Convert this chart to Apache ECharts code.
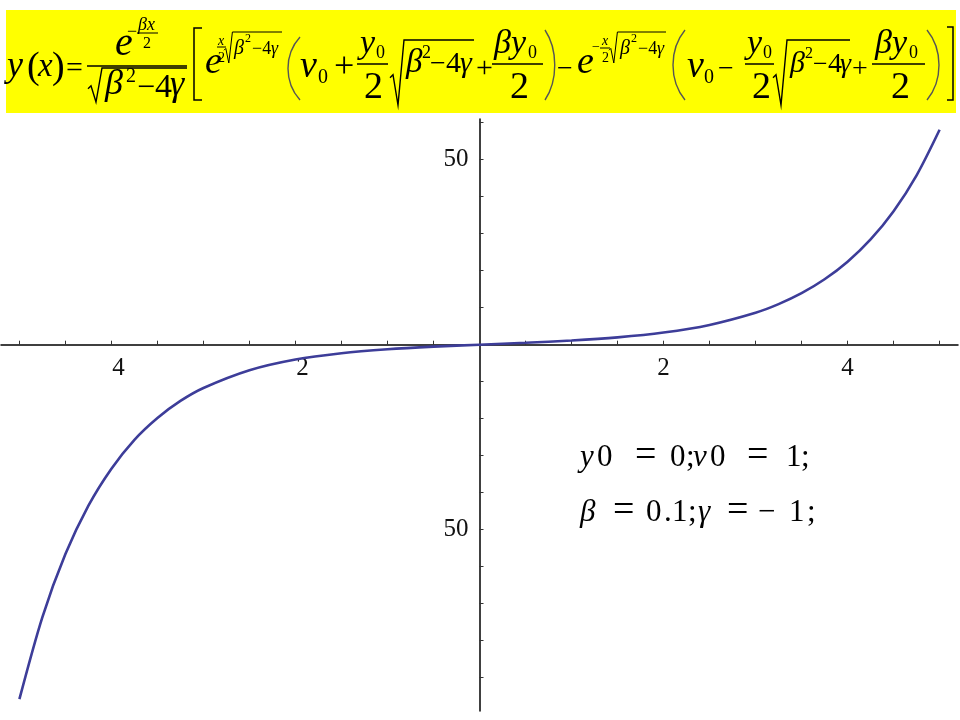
<!DOCTYPE html>
<html>
<head>
<meta charset="utf-8">
<script src="https://cdn.jsdelivr.net/npm/echarts@6/dist/echarts.min.js"></script>
<style>html,body{margin:0;padding:0;background:#fff;}#c{width:960px;height:720px;}</style>
</head>
<body>
<div id="c"></div>
<script>
// ---- data ----
const xValues = [-5,-4.75,-4.5,-4.25,-4,-3.75,-3.5,-3.25,-3,-2.5,-2,-1.5,-1,-0.5,0,0.5,1,1.5,2,2.5,3,3.25,3.5,3.75,4,4.25,4.5,4.75,5];
const yValues = [-95.8,-73.6,-56.6,-43.5,-33.5,-25.7,-19.8,-15.2,-11.7,-6.9,-4.0,-2.3,-1.24,-0.53,0,0.51,1.12,1.98,3.29,5.35,8.64,10.98,13.93,17.68,22.43,28.45,36.09,45.79,58.1];
const xTickValues = [-5,-4.5,-4,-3.5,-3,-2.5,-2,-1.5,-1,-0.5,0.5,1,1.5,2,2.5,3,3.5,4,4.5,5];
const xLabelValues = [-4,-2,2,4];
const yTickValues = [-90,-80,-70,-60,-50,-40,-30,-20,-10,10,20,30,40,50,60];
const yLabelValues = [-50,50];
const xMin = -5.2, xMax = 5.2, yMin = -99, yMax = 61;

const FAM = 'Liberation Serif';
const cctx = document.createElement('canvas').getContext('2d');
function fnt(s,it){return (it?'italic ':'')+s+'px '+FAM;}
function midOff(s,it){cctx.font=fnt(s,it);cctx.textBaseline='middle';return cctx.measureText('H').actualBoundingBoxDescent;}
function T(str,left,base,size,it){
  return {type:'text',x:left,y:base-midOff(size,it),silent:true,z:10,
    style:{text:str,fontSize:size,fontFamily:FAM,fontStyle:it?'italic':'normal',fill:'#000',
      align:'left',verticalAlign:'middle',textAlign:'left',textVerticalAlign:'middle'}};
}
function H(x1,x2,y,lw){return {type:'line',z:10,silent:true,shape:{x1:x1,y1:y,x2:x2,y2:y},style:{stroke:'#000',lineWidth:lw||1.5}};}
function P(pts,lw){return {type:'polyline',z:10,silent:true,shape:{points:pts},style:{stroke:'#000',fill:null,lineWidth:lw||1.5}};}
function RAD(x0,yTop,yBot,xEnd,sc){
  sc=sc||1;
  const m=yTop+(yBot-yTop)*0.55;
  return P([[x0,m+2*sc],[x0+3*sc,m-1*sc],[x0+8*sc,yBot],[x0+14*sc,yTop],[xEnd,yTop]],sc>0.8?1.4:1);
}
function PAREN(a,b,t,bt,left){
  const h=bt-t;
  if(left) return {type:'bezierCurve',z:10,silent:true,shape:{x1:b,y1:t,x2:b,y2:bt,cpx1:a-3,cpy1:t+h*0.28,cpx2:a-3,cpy2:t+h*0.72},style:{stroke:'#555',lineWidth:1.4,fill:null}};
  return {type:'bezierCurve',z:10,silent:true,shape:{x1:a,y1:t,x2:a,y2:bt,cpx1:b+3,cpy1:t+h*0.28,cpx2:b+3,cpy2:t+h*0.72},style:{stroke:'#555',lineWidth:1.4,fill:null}};
}

const g = [];
g.push({type:'rect',z:5,silent:true,shape:{x:6,y:10,width:950,height:103},style:{fill:'#ffff00'}});
// y(x) =
g.push(T('y',7,76,36,true),T('(',27,78,38,false),T('x',38,76,33,true),T(')',52,78,38,false),T('=',66,77,30,false));
// first fraction
g.push(H(87,187,66));
g.push(T('e',115,55,40,true),T('\u2212',127,37,18,false),T('\u03b2x',138,30,18,true),H(137,158,33,1),T('2',143,48,16,false));
g.push(RAD(88,68,102,187,1));
g.push(T('\u03b2',105,94,36,true),T('2',126,82,20,false),T('\u2212',137,97,32,false),T('4',155,97,34,false),T('\u03b3',170,95,36,true));
// [
g.push(P([[202,28],[194,28],[194,100],[202,100]]));
// e^{x/2 sqrt}
g.push(T('e',205,73,38,true),T('x',218,45,14,true),H(217,226,47,1),T('2',218,62,14,false));
g.push(RAD(224,32,63,282,0.6));
g.push(T('\u03b2',234,54,20,true),T('2',245,42,12,false),T('\u22124',252,54,18,false),T('\u03b3',271,54,18,true));
g.push(PAREN(287,300,37,100,true));
g.push(T('v',300,77,38,true),T('0',318,83,20,false),T('+',334,77,36,false));
g.push(H(357,388,64),T('y',360,53,34,true),T('0',376,58,18,false),T('2',364,98,38,false));
g.push(RAD(390,40,105,474,1));
g.push(T('\u03b2',406,72,33,true),T('2',422,58,18,false),T('\u2212',430,72,28,false),T('4',446,72,30,false),T('\u03b3',460,72,30,true));
g.push(T('+',476,77,30,false));
g.push(H(492,543,64),T('\u03b2',494,53,34,true),T('y',511,53,34,true),T('0',528,58,18,false),T('2',510,98,38,false));
g.push(PAREN(545,555,30,100,false));
g.push(T('\u2212',557,77,28,false),T('e',577,73,38,true));
g.push(T('\u2212',592,51,14,false),T('x',602,45,14,true),H(600,610,48,1),T('2',602,62,14,false));
g.push(RAD(609,32,63,666,0.6));
g.push(T('\u03b2',620,54,20,true),T('2',631,42,12,false),T('\u22124',638,54,18,false),T('\u03b3',657,54,18,true));
g.push(PAREN(672,685,30,100,true));
g.push(T('v',687,77,38,true),T('0',704,83,20,false),T('\u2212',718,77,28,false));
g.push(H(745,774,64),T('y',747,53,34,true),T('0',763,58,18,false),T('2',752,98,38,false));
g.push(RAD(773,40,105,850,1));
g.push(T('\u03b2',790,72,30,true),T('2',805,58,16,false),T('\u2212',813,72,26,false),T('4',828,72,28,false),T('\u03b3',840,72,28,true));
g.push(T('+',852,77,28,false));
g.push(H(872,925,64),T('\u03b2',875,53,34,true),T('y',892,53,34,true),T('0',909,58,18,false),T('2',891,98,38,false));
g.push(PAREN(927,940,30,100,false));
g.push(P([[947,27],[953,27],[953,100],[947,100]]));
// parameter annotation
const B1=466, B2=521, AS=31;
g.push(T('y',580,B1,AS,true),T('0',597,B1,AS,false),T('=',635,B1,38,false),T('0',670,B1,AS,false),T(';',686,B1,AS,false),
       T('v',693,B1,AS,true),T('0',710,B1,AS,false),T('=',747,B1,38,false),T('1',786,B1,AS,false),T(';',801,B1,AS,false));
g.push(T('\u03b2',580,B2,AS,true),T('=',613,B2,38,false),T('0',646,B2,AS,false),T('.',664,B2,AS,false),T('1',672,B2,AS,false),T(';',688,B2,AS,false),
       T('\u03b3',698,B2,AS,true),T('=',727,B2,38,false),T('\u2212',758,B2,AS,false),T('1',789,B2,AS,false),T(';',807,B2,AS,false));

// grid geometry
const GL=1, GT=119, GW=957, GH=592;
const zeroY = GT + (yMax/(yMax-yMin))*GH;          // pixel row of y = 0
const zeroX = GL + (-xMin/(xMax-xMin))*GW;         // pixel column of x = 0

const chart = echarts.init(document.getElementById('c'));
chart.setOption({
  animation:false,
  backgroundColor:'#ffffff',
  grid:{left:GL,top:GT,width:GW,height:GH,containLabel:false,outerBoundsMode:'none'},
  xAxis:{type:'value',min:xMin,max:xMax,position:'bottom',offset:-(GT+GH-zeroY),
    axisLine:{onZero:false,lineStyle:{color:'#000',width:1.5}},
    axisTick:{show:true,inside:true,length:4,lineStyle:{color:'#333',width:1},customValues:xTickValues},
    axisLabel:{show:true,margin:11,fontFamily:FAM,fontSize:25,color:'#111',customValues:xLabelValues,
      rich:{n:{fontFamily:FAM,fontSize:25,color:'#111',padding:[0,0,0,14]}},
      formatter:function(v){return v<0?'{n|'+Math.abs(v)+'}':String(v);}},
    splitLine:{show:false}},
  yAxis:{type:'value',min:yMin,max:yMax,position:'left',offset:-(zeroX-GL),
    axisLine:{onZero:false,lineStyle:{color:'#000',width:1.5}},
    axisTick:{show:true,inside:true,length:4,lineStyle:{color:'#333',width:1},customValues:yTickValues},
    axisLabel:{show:true,margin:11,fontFamily:FAM,fontSize:25,color:'#111',customValues:yLabelValues,
      formatter:function(v){return String(Math.abs(v));}},
    splitLine:{show:false}},
  series:[{type:'line',data:xValues.map(function(x,i){return [x,yValues[i]];}),smooth:0.3,showSymbol:false,
    lineStyle:{color:'#3d3d99',width:2.6},z:3}],
  graphic:g
});
</script>
</body>
</html>
